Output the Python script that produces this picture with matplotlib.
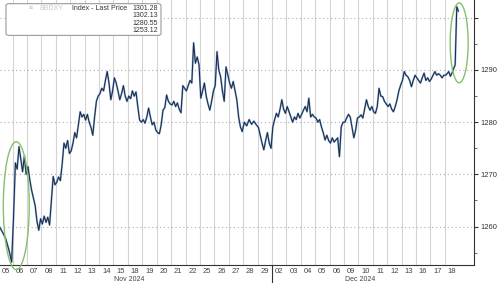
import numpy as np
import matplotlib
matplotlib.use("Agg")
import matplotlib.pyplot as plt
from matplotlib.patches import Ellipse, FancyBboxPatch

plt.rcParams["font.family"] = ["Liberation Sans", "DejaVu Sans"]

# Trading days shown on the x axis
days = ["05", "06", "07", "08", "11", "12", "13", "14", "15", "18", "19", "20",
        "21", "22", "25", "26", "27", "28", "29",
        "02", "03", "04", "05", "06", "09", "10", "11", "12", "13", "16", "17", "18"]
months = ["Nov 2024", "Dec 2024"]
month_start = [0, 19]

# Intraday prices, one list per trading day
prices = [
    [1260.0, 1259.3, 1258.6, 1257.8, 1256.5, 1255.0, 1253.2],
    [1262.0, 1272.2, 1271.0, 1275.3, 1273.0, 1270.5, 1273.5, 1270.0],
    [1271.5, 1269.0, 1267.0, 1265.5, 1264.0, 1261.0, 1259.3, 1261.5],
    [1260.5, 1262.0, 1260.8, 1261.8, 1260.3, 1265.0, 1269.6, 1268.0],
    [1268.5, 1269.5, 1268.8, 1272.0, 1276.0, 1275.0, 1276.5, 1274.0],
    [1274.5, 1276.0, 1278.0, 1277.0, 1279.5, 1282.0, 1281.0, 1281.5],
    [1280.4, 1281.5, 1280.0, 1279.0, 1277.5, 1281.0, 1284.0, 1285.0],
    [1285.5, 1286.5, 1286.0, 1288.0, 1289.7, 1287.5, 1284.3, 1286.0],
    [1288.5, 1287.5, 1286.0, 1284.3, 1285.5, 1287.0, 1285.0, 1284.0],
    [1285.0, 1284.5, 1286.0, 1285.0, 1285.8, 1283.0, 1280.4, 1280.0],
    [1280.5, 1279.8, 1281.0, 1282.7, 1281.0, 1279.5, 1280.0, 1278.5],
    [1278.0, 1277.8, 1279.5, 1282.3, 1282.8, 1285.2, 1284.0, 1283.5],
    [1283.3, 1284.0, 1283.0, 1283.7, 1282.5, 1281.8, 1287.0, 1286.5],
    [1286.0, 1287.0, 1288.0, 1287.5, 1295.2, 1291.3, 1292.5, 1291.0],
    [1284.6, 1286.0, 1287.5, 1285.0, 1283.5, 1282.3, 1284.0, 1286.0],
    [1287.0, 1293.5, 1290.0, 1288.7, 1286.0, 1284.0, 1290.6, 1289.0],
    [1287.5, 1286.5, 1287.8, 1286.0, 1284.3, 1281.0, 1279.1, 1278.2],
    [1280.0, 1279.3, 1280.5, 1279.6, 1280.2, 1279.5],
    [1279.0, 1277.5, 1276.0, 1274.7, 1276.5, 1278.0, 1276.0, 1275.0],
    [1279.1, 1280.5, 1281.7, 1281.0, 1282.5, 1284.3, 1282.5, 1281.7],
    [1283.0, 1282.0, 1281.0, 1280.0, 1281.0, 1280.5, 1281.7, 1280.8],
    [1281.5, 1282.3, 1283.0, 1282.0, 1284.6, 1281.0, 1281.5, 1281.0],
    [1280.8, 1280.0, 1280.5, 1279.1, 1278.0, 1276.6, 1277.5, 1276.5],
    [1276.0, 1277.0, 1276.2, 1276.6, 1277.0, 1273.4, 1279.1, 1280.0],
    [1280.0, 1280.8, 1281.5, 1281.0, 1279.0, 1277.0, 1278.5, 1280.8],
    [1281.0, 1281.4, 1280.8, 1282.5, 1284.3, 1283.0, 1282.3, 1283.0],
    [1282.0, 1281.7, 1283.0, 1286.5, 1285.0, 1284.9, 1284.0, 1283.5],
    [1283.0, 1283.5, 1282.5, 1282.0, 1283.0, 1284.3, 1286.0, 1287.1],
    [1288.0, 1289.7, 1289.0, 1288.7, 1288.0, 1286.8, 1288.0, 1289.0],
    [1288.5, 1288.0, 1287.5, 1288.5, 1289.4, 1288.0, 1288.5, 1287.8],
    [1288.3, 1289.0, 1289.7, 1289.0, 1289.3, 1289.0, 1288.5, 1289.0],
    [1289.0, 1289.3, 1289.7, 1288.8, 1289.4, 1290.2, 1291.0, 1302.13, 1301.28],
]

last_price = 1301.28
high_price = 1302.13
avg_price = 1280.55
low_price = 1253.12

yticks = [1260, 1270, 1280, 1290, 1300]
ytick_labels = ["1260", "1270", "1280", "1290", ""]

# spread each day's samples evenly over its slot
x, y = [], []
for i, day in enumerate(prices):
    n = len(day)
    for k, p in enumerate(day):
        x.append(i + (k + 0.5) / n)
        y.append(p)

fig = plt.figure(figsize=(5, 2.83), dpi=100)
ax = fig.add_axes([0.0, 0.0636, 0.948, 0.9364])

# grid
for b in range(1, len(days)):
    ax.axvline(b, color="#d4d4d4", lw=0.8, zorder=0)
for t in yticks:
    ax.axhline(t, color="#b0b0b0", lw=0.8, ls=(0, (1, 2.5)), zorder=0)

ax.plot(x, y, color="#7aa3d4", lw=1.4, alpha=0.8, zorder=2)
ax.plot(x, y, color="#1c2b45", lw=0.75, zorder=3)

ax.set_xlim(0.12, 33.03)
ax.set_ylim(1252.64, 1303.41)

ax.spines["top"].set_visible(False)
ax.spines["left"].set_visible(False)
ax.spines["right"].set_color("#333333")
ax.spines["bottom"].set_color("#333333")
ax.spines["right"].set_linewidth(0.8)
ax.spines["bottom"].set_linewidth(0.8)

ax.yaxis.tick_right()
ax.set_yticks(yticks)
ax.set_yticklabels(ytick_labels)
ax.set_yticks([1255, 1265, 1275, 1285, 1295], minor=True)
ax.tick_params(axis="y", which="major", length=3, width=0.8, direction="out",
               labelsize=5.5, colors="#333333", pad=1.5)
ax.tick_params(axis="y", which="minor", length=2, width=0.6, direction="out",
               colors="#555555")

ax.set_xticks([i + 0.5 for i in range(len(days))])
ax.set_xticklabels(days)
ax.tick_params(axis="x", length=0, labelsize=5.5, colors="#444444", pad=2)

# month labels and separator
for j, m in enumerate(months):
    end = month_start[j + 1] if j + 1 < len(month_start) else len(days)
    ax.text((month_start[j] + end) / 2 - 0.4, -0.04, m, transform=ax.get_xaxis_transform(),
            ha="center", va="top", fontsize=5, color="#444444")
ax.plot([month_start[1], month_start[1]], [0, -0.1], transform=ax.get_xaxis_transform(),
        color="#333333", lw=0.8, clip_on=False)

# green highlight ellipses
ax.add_patch(Ellipse((1.25, 1264.0), 1.8, 24.5, fill=False, ec="#86c06a", lw=1.0, zorder=4,
                     clip_on=False))
ax.add_patch(Ellipse((32.0, 1295.2), 1.25, 15.3, fill=False, ec="#86c06a", lw=1.0, zorder=4))

# legend box
box = FancyBboxPatch((0.012, 0.875), 0.31, 0.112, boxstyle="round,pad=0,rounding_size=0.006",
                     transform=fig.transFigure, fc="white", ec="#9a9a9a", lw=0.8, zorder=5)
fig.patches.append(box)
txt = dict(fontsize=5, va="center", zorder=6)
fig.text(0.058, 0.970, "≡", color="#c0c0c0", ha="left", **txt)
fig.text(0.078, 0.970, "BBDXY", color="#c8c8c8", ha="left", **txt)
fig.text(0.143, 0.970, "Index - Last Price", color="#333333", ha="left", **txt)
vals = [last_price, high_price, avg_price, low_price]
for k, v in enumerate(vals):
    fig.text(0.316, 0.970 - k * 0.026, f"{v:.2f}", color="#333333", ha="right", **txt)

fig.savefig("out.png", dpi=100)
